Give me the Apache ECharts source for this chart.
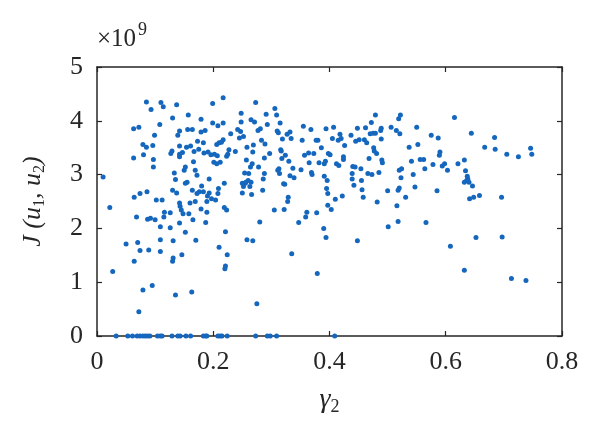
<!DOCTYPE html>
<html>
<head>
<meta charset="utf-8">
<script src="https://cdn.jsdelivr.net/npm/echarts@6/dist/echarts.min.js"></script>
<style>html,body{margin:0;padding:0;background:#fff}#c{width:600px;height:433px}</style>
</head>
<body>
<div id="c"></div>
<script>
// gamma_2 values and J(u1,u2) values (in units of 1e9)
const xTicks = ['0', '0.2', '0.4', '0.6', '0.8'];
const yTicks = ['0', '1', '2', '3', '4', '5'];
const zeroX = [0.033,0.053,0.061,0.069,0.074,0.079,0.083,0.087,0.091,0.104,0.109,0.112,0.129,0.139,0.143,0.153,0.161,0.183,0.187,0.189,0.208,0.212,0.215,0.224,0.273,0.293,0.298,0.309,0.409];
const xs = [
0.0105,0.022,0.027,0.050,0.063,0.063,0.064,0.064,0.068,0.070,0.072,0.072,0.074,0.074,0.079,0.080,0.079,0.085,0.085,0.086,
0.087,0.089,0.092,0.093,0.096,0.095,0.097,0.097,0.099,0.100,0.102,0.108,0.109,0.109,0.109,0.110,0.112,0.114,0.115,0.116,
0.126,0.127,0.126,0.129,0.130,0.130,0.130,0.131,0.131,0.133,0.135,0.135,0.137,0.137,0.139,0.142,0.142,0.142,0.142,0.142,
0.142,0.143,0.145,0.146,0.147,0.148,0.150,0.152,0.152,0.154,0.152,0.155,0.156,0.157,0.158,0.160,0.161,0.163,0.164,0.165,
0.164,0.166,0.167,0.169,0.169,0.170,0.172,0.172,0.173,0.175,0.176,0.179,0.179,0.179,0.180,0.183,0.184,0.183,0.186,0.187,
0.189,0.189,0.190,0.191,0.193,0.193,0.196,0.197,0.199,0.199,0.201,0.202,0.204,0.206,0.206,0.207,0.208,0.208,0.209,0.210,
0.210,0.212,0.214,0.217,0.217,0.217,0.219,0.219,0.220,0.221,0.221,0.223,0.223,0.224,0.225,0.227,0.230,0.238,0.242,0.245,
0.247,0.248,0.248,0.250,0.250,0.252,0.252,0.254,0.255,0.256,0.257,0.258,0.258,0.260,0.261,0.263,0.264,0.265,0.265,0.266,
0.267,0.268,0.268,0.269,0.271,0.273,0.275,0.277,0.278,0.280,0.281,0.283,0.285,0.286,0.288,0.288,0.289,0.291,0.293,0.297,
0.305,0.306,0.309,0.310,0.311,0.312,0.313,0.314,0.315,0.316,0.317,0.318,0.319,0.321,0.322,0.323,0.324,0.327,0.328,0.329,
0.330,0.332,0.332,0.334,0.335,0.337,0.339,0.347,0.351,0.353,0.355,0.357,0.359,0.361,0.364,0.365,0.368,0.369,0.370,0.373,
0.377,0.378,0.379,0.380,0.382,0.386,0.390,0.391,0.391,0.393,0.394,0.394,0.395,0.396,0.397,0.397,0.398,0.401,0.403,0.405,
0.407,0.410,0.412,0.415,0.416,0.418,0.420,0.422,0.424,0.424,0.426,0.437,0.439,0.439,0.440,0.442,0.444,0.445,0.448,0.448,
0.451,0.454,0.455,0.456,0.458,0.460,0.462,0.464,0.466,0.468,0.470,0.472,0.473,0.475,0.476,0.477,0.479,0.479,0.481,0.482,
0.485,0.488,0.489,0.489,0.490,0.491,0.500,0.501,0.506,0.515,0.516,0.518,0.518,0.519,0.520,0.520,0.521,0.522,0.523,0.524,
0.531,0.537,0.541,0.544,0.547,0.550,0.552,0.556,0.562,0.564,0.566,0.575,0.578,0.585,0.587,0.589,0.590,0.594,0.598,0.603,
0.608,0.615,0.621,0.632,0.632,0.632,0.634,0.636,0.637,0.638,0.640,0.641,0.644,0.646,0.648,0.652,0.658,0.667,0.684,0.685,
0.696,0.697,0.705,0.713,0.725,0.738,0.746,0.748
];
const ys = [
2.955,2.39,1.20,1.71,3.85,3.31,2.58,1.39,2.21,1.74,3.88,0.45,1.59,2.65,3.56,3.37,0.855,4.35,3.51,2.68,
2.17,1.60,2.19,4.21,3.54,0.94,3.28,3.14,3.73,2.16,2.53,3.93,2.03,1.79,1.57,4.34,2.53,4.26,2.21,2.30,
2.29,3.39,2.01,3.44,4.05,2.71,1.39,1.77,1.45,3.03,2.91,0.76,4.30,2.66,3.73,3.81,3.53,3.38,3.33,2.47,
2.10,2.41,2.34,1.51,3.41,2.27,3.08,1.93,3.14,3.51,2.84,2.86,3.84,4.11,2.27,2.47,3.53,0.82,3.84,2.16,
2.71,3.24,3.43,2.50,3.08,1.78,2.65,2.99,3.62,3.47,2.68,4.03,2.36,3.79,2.79,3.59,3.40,2.68,3.82,2.11,
2.50,2.30,2.60,3.42,2.66,2.92,3.37,2.55,4.32,3.96,3.23,3.38,2.53,3.20,3.56,3.35,3.91,2.65,2.74,1.65,
3.59,3.23,3.60,4.43,3.96,3.65,2.84,2.39,1.25,1.30,1.94,3.34,2.34,1.51,3.38,3.46,3.76,3.43,3.84,3.68,
3.80,4.14,3.98,2.84,2.66,3.71,2.78,3.03,2.84,2.86,3.27,1.79,3.51,2.89,3.02,2.78,3.14,2.86,4.02,2.63,
3.20,1.77,3.42,3.55,3.98,4.34,0.60,3.82,3.14,2.12,3.85,3.64,2.71,2.92,3.31,3.02,3.57,4.12,3.93,3.39,
2.34,4.23,4.11,3.81,3.08,3.78,3.11,3.02,3.96,3.46,3.44,3.30,3.66,2.83,2.35,2.82,3.36,3.75,2.50,2.58,
3.25,3.79,2.98,3.67,1.53,3.12,2.94,2.11,3.09,3.64,3.90,3.36,2.21,2.30,3.40,3.22,3.84,3.04,3.00,3.39,
3.64,2.29,1.16,3.64,3.22,3.50,2.00,3.20,2.97,3.25,3.85,1.83,2.74,2.89,2.65,2.43,3.39,3.37,2.35,3.67,
3.88,2.54,3.20,3.64,3.17,3.75,3.67,2.60,3.33,3.28,3.54,3.73,3.02,2.92,3.15,2.80,3.14,3.62,3.86,1.77,
3.65,3.11,2.89,2.72,2.58,3.65,3.87,3.59,3.02,3.30,3.76,3.97,3.00,3.77,3.50,3.44,4.11,3.77,3.39,2.49,
3.04,3.82,3.66,3.86,3.27,3.22,2.70,2.03,3.88,3.82,2.42,2.71,2.13,4.04,2.75,3.08,3.76,4.11,2.94,3.11,
2.58,3.51,3.25,3.00,2.77,3.88,3.56,3.28,3.28,3.11,2.11,3.73,3.19,2.70,3.68,3.36,3.42,3.16,3.20,3.08,
1.67,4.06,3.20,3.27,1.22,2.86,3.07,2.89,2.97,2.92,2.86,2.55,3.77,2.79,2.58,1.83,2.61,3.51,3.69,3.47,
2.58,1.84,3.38,1.07,3.33,1.03,3.49,3.38
];
const points = xs.map((x, i) => [x, ys[i]]).concat(zeroX.map(x => [x, 0]));

const FONT = 'Liberation Serif';
const AX = '#262626';
const chart = echarts.init(document.getElementById('c'), null, {renderer: 'canvas'});

function axisLine() { return {show: true, onZero: false, lineStyle: {color: AX, width: 1.5}}; }
function axisTick() { return {show: true, inside: true, length: 5, lineStyle: {color: AX, width: 1.2}}; }

chart.setOption({
  animation: false,
  backgroundColor: '#ffffff',
  graphic: [
    {type: 'text', left: 97, top: 27, style: {text: '×10', fontFamily: FONT, fontSize: 25, fill: AX}},
    {type: 'text', left: 138, top: 21, style: {text: '9', fontFamily: FONT, fontSize: 18, fill: AX}}
  ],
  grid: {left: 97, right: 38, top: 67, bottom: 97},
  xAxis: [
    {
      type: 'value', min: 0, max: 0.8, interval: 0.2, position: 'bottom',
      axisLine: axisLine(), axisTick: axisTick(), splitLine: {show: false},
      axisLabel: {show: true, margin: 13, color: AX, fontFamily: FONT, fontSize: 26,
        formatter: function (v) { return xTicks[Math.round(v / 0.2)]; }},
      name: '{g|γ}{s|2}', nameLocation: 'middle', nameGap: 48,
      nameTextStyle: {fontFamily: FONT, fontSize: 28, color: AX, rich: {
        g: {fontFamily: FONT, fontSize: 28, fontStyle: 'italic', color: AX, lineHeight: 32},
        s: {fontFamily: FONT, fontSize: 18, color: AX, verticalAlign: 'bottom'}
      }}
    },
    {
      type: 'value', min: 0, max: 0.8, interval: 0.2, position: 'top',
      axisLine: axisLine(), axisTick: axisTick(), splitLine: {show: false},
      axisLabel: {show: false}
    }
  ],
  yAxis: [
    {
      type: 'value', min: 0, max: 5, interval: 1, position: 'left',
      axisLine: axisLine(), axisTick: axisTick(), splitLine: {show: false},
      axisLabel: {show: true, margin: 14, color: AX, fontFamily: FONT, fontSize: 26,
        formatter: function (v) { return yTicks[Math.round(v)]; }},
      name: '{a|J (u}{s|1}{a|, u}{s|2}{a|)}', nameLocation: 'middle', nameGap: 49, nameRotate: 90,
      nameTextStyle: {fontFamily: FONT, fontSize: 26, color: AX, rich: {
        a: {fontFamily: FONT, fontSize: 26, fontStyle: 'italic', color: AX, lineHeight: 30},
        s: {fontFamily: FONT, fontSize: 16, color: AX, verticalAlign: 'bottom'}
      }}
    },
    {
      type: 'value', min: 0, max: 5, interval: 1, position: 'right',
      axisLine: axisLine(), axisTick: axisTick(), splitLine: {show: false},
      axisLabel: {show: false}
    }
  ],
  series: [{
    type: 'scatter',
    xAxisIndex: 0, yAxisIndex: 0,
    data: points,
    symbol: 'circle',
    symbolSize: 5,
    itemStyle: {color: '#1567be', opacity: 1},
    clip: false
  }]
});
</script>
</body>
</html>
